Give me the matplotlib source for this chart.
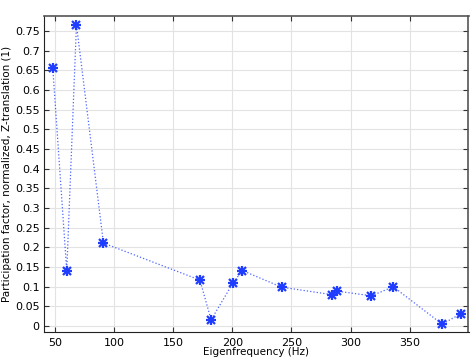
import matplotlib.pyplot as plt
from matplotlib.ticker import FuncFormatter, MultipleLocator

# Eigenfrequency (Hz) and participation factor
freq = [48.3, 60.1, 68.3, 91.1, 172.6, 182.1, 200.7, 208.6, 241.6,
        283.9, 288.1, 317.6, 336.0, 377.3, 392.9]
pfactor = [0.655, 0.140, 0.766, 0.211, 0.117, 0.016, 0.110, 0.141, 0.099,
           0.080, 0.089, 0.077, 0.100, 0.005, 0.031]

blue = "#1f3dff"

fig = plt.figure(figsize=(4.77, 3.59), dpi=100)
ax = fig.add_axes([44.5 / 477, 1 - 332 / 359, 424 / 477, 316 / 359])

ax.plot(freq, pfactor, linestyle=":", color=blue, linewidth=0.9, alpha=0.8)
# asterisk marker = plus + cross on top of each other
ax.plot(freq, pfactor, linestyle="none", marker="+", color=blue,
        markersize=7.5, markeredgewidth=1.6)
ax.plot(freq, pfactor, linestyle="none", marker="x", color=blue,
        markersize=5.5, markeredgewidth=1.6)

ax.set_xlim(41.3, 399.6)
ax.set_ylim(-0.015, 0.788)
ax.xaxis.set_major_locator(MultipleLocator(50))
ax.yaxis.set_major_locator(MultipleLocator(0.05))
ax.yaxis.set_major_formatter(FuncFormatter(lambda v, p: f"{v:.2f}".rstrip("0").rstrip(".")))

ax.grid(True, color="#e3e3e3", linewidth=0.8)
ax.set_axisbelow(True)
ax.tick_params(direction="in", length=3.5, width=0.8, labelsize=8,
               top=True, right=True, colors="#333333", labelcolor="black")
ax.tick_params(axis="x", pad=4.5)
for side in ["left", "bottom"]:
    ax.spines[side].set_color("#222222")
for side in ["top", "right"]:
    ax.spines[side].set_color("#555555")
    ax.spines[side].set_linewidth(1.2)

ax.set_xlabel("Eigenfrequency (Hz)", fontsize=7.5, labelpad=-1)
ax.set_ylabel("Participation factor, normalized, Z-translation (1)", fontsize=7.5, labelpad=2)

fig.savefig("out.png", dpi=100)
